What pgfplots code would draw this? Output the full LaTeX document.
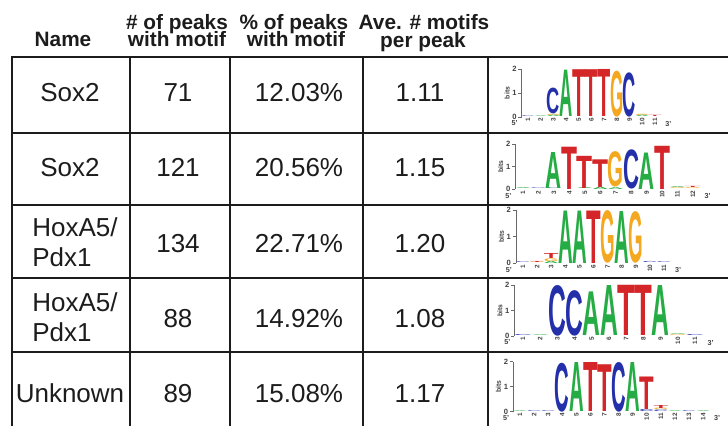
\documentclass[border=0pt]{standalone}
\usepackage{pgfplots}
\pgfplotsset{compat=1.18}
\usepackage{pgfplotstable}
\usepackage{graphicx}
\usepackage{fontspec}
\setmainfont{Liberation Sans}

\definecolor{ink}{RGB}{28,28,28}
\definecolor{logoA}{RGB}{38,172,68}
\definecolor{logoC}{RGB}{36,48,170}
\definecolor{logoG}{RGB}{244,168,32}
\definecolor{logoT}{RGB}{212,38,40}
\definecolor{logoaxis}{RGB}{105,105,105}

% letter stacks: position, stack base (bits), letter height (bits), base
\pgfplotstableread{
pos base h L
1 0 0.03 C
2 0 0.03 A
3 0 0.06 A
3 0.06 0.05 G
3 0.11 1.06 C
4 0 1.93 A
5 0 1.95 T
6 0 1.95 T
7 0 1.96 T
8 0 1.89 G
9 0 1.82 C
10 0 0.06 A
10 0.06 0.05 G
11 0 0.05 T
}\logoone

\pgfplotstableread{
pos base h L
1 0 0.04 A
2 0 0.03 C
3 0 0.03 C
3 0.03 1.60 A
4 0 1.88 T
5 0 0.05 A
5 0.05 1.43 T
6 0 0.10 A
6 0.10 1.23 T
7 0 0.08 A
7 0.08 1.55 G
8 0 1.72 C
9 0 1.62 A
10 0 1.92 T
11 0 0.04 G
11 0.04 0.04 A
12 0 0.04 G
12 0.04 0.05 T
}\logotwo

\pgfplotstableread{
pos base h L
1 0 0.03 C
2 0 0.03 G
2 0.03 0.04 T
3 0 0.08 A
3 0.08 0.10 G
3 0.18 0.19 T
4 0 1.98 A
5 0 1.98 A
6 0 1.98 T
7 0 1.96 G
8 0 1.96 A
9 0 1.92 G
10 0 0.04 C
11 0 0.03 C
}\logothree

\pgfplotstableread{
pos base h L
1 0 0.04 C
2 0 0.03 A
3 0 1.96 C
4 0 1.76 C
5 0 1.71 A
6 0 1.96 A
7 0 1.97 T
8 0 1.97 T
9 0 1.96 A
10 0 0.03 G
10 0.03 0.03 A
11 0 0.04 C
}\logofour

\pgfplotstableread{
pos base h L
1 0 0.03 A
2 0 0.03 C
3 0 0.03 C
4 0 1.93 C
5 0 1.96 A
6 0 1.96 T
7 0 1.87 T
8 0 1.96 C
9 0 1.96 A
10 0 0.08 C
10 0.08 1.30 T
11 0 0.06 C
11 0.06 0.06 G
11 0.12 0.12 T
12 0 0.03 A
13 0 0.03 C
14 0 0.03 A
}\logofive

% one stretched letter: width \lw, height = bits * \bitpt
\newcommand\logoletter[1]{%
  \edef\ll{\pgfplotspointmeta}%
  \pgfmathsetmacro\lhpt{#1*\bitpt}%
  \resizebox{\lw}{\lhpt pt}{\bfseries\textcolor{logo\ll}{\ll}}%
}

\tikzset{
  hd/.style={font=\fontsize{10.4}{11}\selectfont\bfseries, text=ink, anchor=base, inner sep=0pt},
  cell/.style={font=\fontsize{13}{15}\selectfont, text=ink, anchor=base, inner sep=0pt},
  primelbl/.style={font=\fontsize{3.6}{4}\selectfont\bfseries, text=logoaxis!60!black},
}

\pgfplotsset{
  rule/.style={ink, line width=1.35pt, mark=none, line cap=rect},
  logo/.style={
    scale only axis, anchor=south west, clip=false,
    xmin=0.5, ymin=0, ymax=2,
    /pgf/number format/assume math mode=true,
    axis lines*=left,
    x axis line style={draw=none},
    y axis line style={logoaxis, line width=0.35pt},
    xtick style={draw=none},
    ytick style={logoaxis, line width=0.35pt},
    ytick={0,1,2},
    tick align=outside, major tick length=1.6pt,
    yticklabel style={font=\fontsize{3.8}{4}\selectfont\bfseries, text=logoaxis!60!black, inner sep=0.7pt},
    xticklabel style={font=\fontsize{3.2}{4}\selectfont\bfseries, text=logoaxis!60!black, rotate=90, anchor=east, inner sep=0.2pt},
    xticklabel shift=-1.3pt,
    ylabel={bits}, ylabel near ticks,
    ylabel style={font=\fontsize{3.4}{4}\selectfont\bfseries, text=logoaxis!60!black, inner sep=0.5pt},
  },
  letters/.style={
    draw=none, mark=none,
    point meta=explicit symbolic,
    visualization depends on={\thisrow{h} \as \lh},
    nodes near coords={\logoletter{\lh}},
    every node near coord/.append style={anchor=south, inner sep=0pt, outer sep=0pt},
  },
}

\newcommand\primes{%
  \node[primelbl] at (rel axis cs:0,0) [xshift=-3.5pt, yshift=-3.2pt] {5'};
  \node[primelbl] at (rel axis cs:1,0) [xshift=3.5pt, yshift=-3.4pt] {3'};
}

\begin{document}
\begin{tikzpicture}
% table frame and text
\begin{axis}[scale only axis, width=364pt, height=213pt,
  xmin=0, xmax=728, ymin=0, ymax=426, y dir=reverse,
  hide axis, clip=false]
\addplot[rule] coordinates {(745,57) (12,57) (12,440)};
\addplot[rule] coordinates {(12,133) (745,133)};
\addplot[rule] coordinates {(12,205) (745,205)};
\addplot[rule] coordinates {(12,278) (745,278)};
\addplot[rule] coordinates {(12,352) (745,352)};
\addplot[rule] coordinates {(130,57) (130,440)};
\addplot[rule] coordinates {(230,57) (230,440)};
\addplot[rule] coordinates {(363,57) (363,440)};
\addplot[rule] coordinates {(488,57) (488,440)};

\node[hd] at (axis cs:63,47) {Name};
\node[hd] at (axis cs:177,30) {\# of peaks};
\node[hd] at (axis cs:177,47) {with motif};
\node[hd] at (axis cs:294,30) {\% of peaks};
\node[hd] at (axis cs:296,47) {with motif};
\node[hd] at (axis cs:424,30) {Ave. \# motifs};
\node[hd] at (axis cs:423,48) {per peak};

\node[cell] at (axis cs:70,102) {Sox2};
\node[cell] at (axis cs:70,177) {Sox2};
\node[cell, anchor=base west] at (axis cs:32,237) {HoxA5/};
\node[cell, anchor=base west] at (axis cs:32,267) {Pdx1};
\node[cell, anchor=base west] at (axis cs:32,312) {HoxA5/};
\node[cell, anchor=base west] at (axis cs:32,342) {Pdx1};
\node[cell] at (axis cs:70,403) {Unknown};

\node[cell] at (axis cs:178,102) {71};
\node[cell] at (axis cs:178,177) {121};
\node[cell] at (axis cs:178,253) {134};
\node[cell] at (axis cs:178,328) {88};
\node[cell] at (axis cs:178,403) {89};

\node[cell] at (axis cs:299,102) {12.03\%};
\node[cell] at (axis cs:299,177) {20.56\%};
\node[cell] at (axis cs:299,253) {22.71\%};
\node[cell] at (axis cs:299,328) {14.92\%};
\node[cell] at (axis cs:299,403) {15.08\%};

\node[cell] at (axis cs:420,102) {1.11};
\node[cell] at (axis cs:420,177) {1.15};
\node[cell] at (axis cs:420,253) {1.20};
\node[cell] at (axis cs:420,328) {1.08};
\node[cell] at (axis cs:420,403) {1.17};
\end{axis}

% motif logos
\def\lw{6.6pt}\def\bitpt{12}
\begin{axis}[logo, at={(260.8pt,154.5pt)}, width=69.85pt, height=24pt,
  xmax=11.5, xtick={1,...,11}]
\addplot[letters] table[x=pos, y=base, meta=L] {\logoone};
\primes
\end{axis}

\def\lw{8.0pt}\def\bitpt{11.25}
\begin{axis}[logo, at={(257.65pt,118.35pt)}, width=92.7pt, height=22.5pt,
  xmax=12.5, xtick={1,...,12}]
\addplot[letters] table[x=pos, y=base, meta=L] {\logotwo};
\primes
\end{axis}

\def\lw{7.3pt}\def\bitpt{13.25}
\begin{axis}[logo, at={(257.98pt,81.35pt)}, width=77.55pt, height=26.5pt,
  xmax=11.5, xtick={1,...,11}]
\addplot[letters] table[x=pos, y=base, meta=L] {\logothree};
\primes
\end{axis}

\def\lw{8.9pt}\def\bitpt{12.75}
\begin{axis}[logo, at={(257.2pt,45pt)}, width=94.6pt, height=25.5pt,
  xmax=11.5, xtick={1,...,11}]
\addplot[letters] table[x=pos, y=base, meta=L] {\logofour};
\primes
\end{axis}

\def\lw{7.3pt}\def\bitpt{12.5}
\begin{axis}[logo, at={(256.5pt,7.15pt)}, width=98.56pt, height=25pt,
  xmax=14.5, xtick={1,...,14}]
\addplot[letters] table[x=pos, y=base, meta=L] {\logofive};
\primes
\end{axis}

\pgfresetboundingbox
\useasboundingbox (0,0) rectangle (364pt,213pt);
\end{tikzpicture}
\end{document}
